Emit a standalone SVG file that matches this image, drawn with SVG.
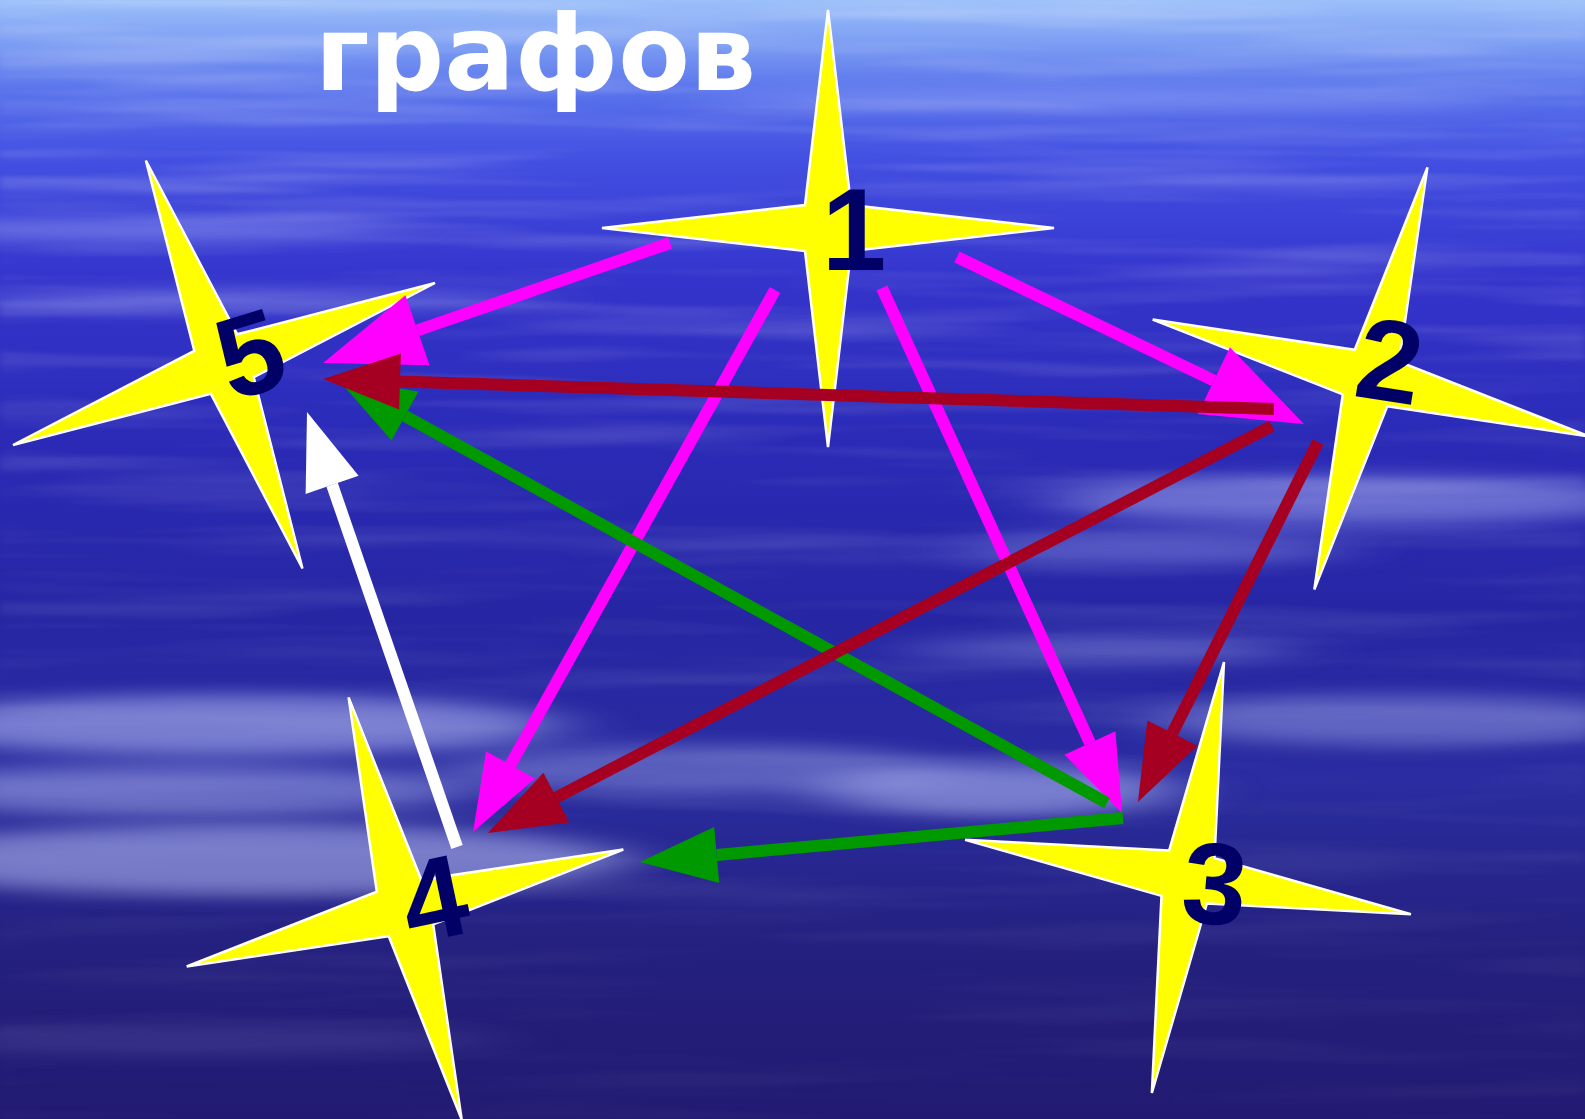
<svg xmlns="http://www.w3.org/2000/svg" width="1585" height="1119" viewBox="0 0 1585 1119">
  <defs>
    <linearGradient id="sky" x1="0" y1="0" x2="0" y2="1">
      <stop offset="0" stop-color="#9cc0fa"/>
      <stop offset="0.04" stop-color="#7b9cf3"/>
      <stop offset="0.08" stop-color="#5a74ec"/>
      <stop offset="0.14" stop-color="#4350e2"/>
      <stop offset="0.25" stop-color="#3434cc"/>
      <stop offset="0.4" stop-color="#2a2ab6"/>
      <stop offset="0.55" stop-color="#2626a4"/>
      <stop offset="0.7" stop-color="#2a2ca0"/>
      <stop offset="0.85" stop-color="#24207e"/>
      <stop offset="1" stop-color="#221a72"/>
    </linearGradient>
    <linearGradient id="fadeG" x1="0" y1="0" x2="0" y2="1">
      <stop offset="0" stop-color="#fff" stop-opacity="1"/>
      <stop offset="0.3" stop-color="#fff" stop-opacity="0.6"/>
      <stop offset="0.6" stop-color="#fff" stop-opacity="0.3"/>
      <stop offset="1" stop-color="#fff" stop-opacity="0.15"/>
    </linearGradient>
    <mask id="fade" maskUnits="userSpaceOnUse" x="0" y="0" width="1585" height="1119">
      <rect x="0" y="0" width="1585" height="1119" fill="url(#fadeG)"/>
    </mask>
    <filter id="streaks" filterUnits="userSpaceOnUse" x="0" y="0" width="1585" height="1119">
      <feTurbulence type="fractalNoise" baseFrequency="0.002 0.04" numOctaves="3" seed="7"/>
      <feColorMatrix type="matrix" values="0 0 0 0 1  0 0 0 0 1  0 0 0 0 1  2.2 0 0 0 -1.0"/>
      <feGaussianBlur stdDeviation="4 1.2"/>
    </filter>
    <filter id="blur" x="-50%" y="-200%" width="200%" height="500%">
      <feGaussianBlur stdDeviation="40 9"/>
    </filter>
    <marker id="mBig" markerUnits="userSpaceOnUse" orient="auto" refX="0" refY="0" markerWidth="120" markerHeight="90" viewBox="0 -45 120 90" overflow="visible">
      <path d="M0,-37 L100,0 L0,37 Z" fill="#ff00ff"/>
    </marker>
    <marker id="mSmall" markerUnits="userSpaceOnUse" orient="auto" refX="0" refY="0" markerWidth="90" markerHeight="70" viewBox="0 -35 90 70" overflow="visible">
      <path d="M0,-28 L77,0 L0,28 Z" fill="#ff00ff"/>
    </marker>
    <marker id="rSmall" markerUnits="userSpaceOnUse" orient="auto" refX="0" refY="0" markerWidth="90" markerHeight="70" viewBox="0 -35 90 70" overflow="visible">
      <path d="M0,-28 L77,0 L0,28 Z" fill="#a50021"/>
    </marker>
    <marker id="gSmall" markerUnits="userSpaceOnUse" orient="auto" refX="0" refY="0" markerWidth="90" markerHeight="70" viewBox="0 -35 90 70" overflow="visible">
      <path d="M0,-28 L77,0 L0,28 Z" fill="#009900"/>
    </marker>
    <marker id="wSmall" markerUnits="userSpaceOnUse" orient="auto" refX="0" refY="0" markerWidth="90" markerHeight="70" viewBox="0 -35 90 70" overflow="visible">
      <path d="M0,-28 L77,0 L0,28 Z" fill="#ffffff"/>
    </marker>
    <path id="star" d="M0,-218 L23,-23 L226,0 L23,23 L0,219 L-23,23 L-226,0 L-23,-23 Z"/>
  </defs>
  <style>
    .star { fill: #ffff00; stroke: #ffffff; stroke-width: 2.5; stroke-linejoin: miter; }
    .num { font-family: "Liberation Sans", Arial, sans-serif; font-weight: bold; font-size: 116px; fill: #000066; text-anchor: middle; }
    .title { font-family: "DejaVu Sans", Verdana, sans-serif; font-weight: bold; font-size: 106px; fill: #ffffff; }
    .edge { fill: none; stroke-width: 12; stroke-linecap: butt; }
    .mag { stroke: #ff00ff; }
    .red { stroke: #a50021; }
    .grn { stroke: #009900; }
    .wht { stroke: #ffffff; }
  </style>

  <!-- background -->
  <rect x="0" y="0" width="1585" height="1119" fill="url(#sky)"/>
  <g mask="url(#fade)">
    <rect x="0" y="0" width="1585" height="1119" filter="url(#streaks)" opacity="0.3"/>
  </g>
  <g fill="#c8d0ff" filter="url(#blur)">
    <ellipse cx="230" cy="725" rx="330" ry="30" opacity="0.5"/>
    <ellipse cx="170" cy="790" rx="300" ry="25" opacity="0.4"/>
    <ellipse cx="250" cy="860" rx="380" ry="35" opacity="0.5"/>
    <ellipse cx="700" cy="770" rx="250" ry="25" opacity="0.3"/>
    <ellipse cx="1000" cy="790" rx="180" ry="25" opacity="0.5"/>
    <ellipse cx="1350" cy="500" rx="300" ry="25" opacity="0.4"/>
    <ellipse cx="1150" cy="550" rx="200" ry="15" opacity="0.3"/>
    <ellipse cx="1400" cy="720" rx="250" ry="25" opacity="0.35"/>
    <ellipse cx="1100" cy="650" rx="200" ry="15" opacity="0.25"/>
    <ellipse cx="150" cy="230" rx="250" ry="10" opacity="0.4"/>
    <ellipse cx="250" cy="300" rx="300" ry="10" opacity="0.3"/>
    <ellipse cx="1100" cy="100" rx="400" ry="10" opacity="0.3"/>
    <ellipse cx="200" cy="1040" rx="300" ry="15" opacity="0.12"/>
  </g>

  <text class="title" x="315" y="90" textLength="441" lengthAdjust="spacingAndGlyphs">графов</text>

  <!-- nodes -->
  <g id="node1">
    <use href="#star" class="star" transform="translate(828,228)"/>
    <text class="num" x="854" y="270">1</text>
  </g>
  <g id="node2">
    <use href="#star" class="star" transform="translate(1371,378) rotate(15)"/>
    <text class="num" transform="translate(1390,360) rotate(9)" x="0" y="41">2</text>
  </g>
  <g id="node3">
    <use href="#star" class="star" transform="translate(1188,877) rotate(9.5)"/>
    <text class="num" transform="translate(1215,883) rotate(5)" x="0" y="41">3</text>
  </g>
  <g id="node4">
    <use href="#star" class="star" transform="translate(405,908) rotate(-15)"/>
    <text class="num" transform="translate(434,898) rotate(-12)" x="0" y="41">4</text>
  </g>
  <g id="node5">
    <use href="#star" class="star" transform="translate(224,364) rotate(-21)"/>
    <text class="num" transform="translate(250,353) rotate(-17)" x="0" y="41">5</text>
  </g>

  <!-- connectors -->
  <g id="connectors">
    <line class="edge mag" x1="670" y1="243" x2="417.5" y2="330.3" marker-end="url(#mBig)"/>
    <line class="edge mag" x1="957" y1="257" x2="1213.9" y2="380.6" marker-end="url(#mBig)"/>
    <line class="edge mag" x1="775" y1="290" x2="510.5" y2="764.8" marker-end="url(#mSmall)"/>
    <line class="edge mag" x1="882" y1="288" x2="1090" y2="743" marker-end="url(#mSmall)"/>
    <line class="edge grn" x1="1107" y1="803" x2="405" y2="416" marker-end="url(#gSmall)"/>
    <line class="edge grn" x1="1123" y1="818" x2="716.7" y2="855" marker-end="url(#gSmall)"/>
    <line class="edge wht" x1="457" y1="847" x2="332.1" y2="484.8" marker-end="url(#wSmall)"/>
    <line class="edge red" x1="1274" y1="409" x2="400" y2="381.4" marker-end="url(#rSmall)"/>
    <line class="edge red" x1="1272" y1="426" x2="556.3" y2="797.5" marker-end="url(#rSmall)"/>
    <line class="edge red" x1="1318" y1="442" x2="1172.4" y2="733.1" marker-end="url(#rSmall)"/>
  </g>
</svg>
